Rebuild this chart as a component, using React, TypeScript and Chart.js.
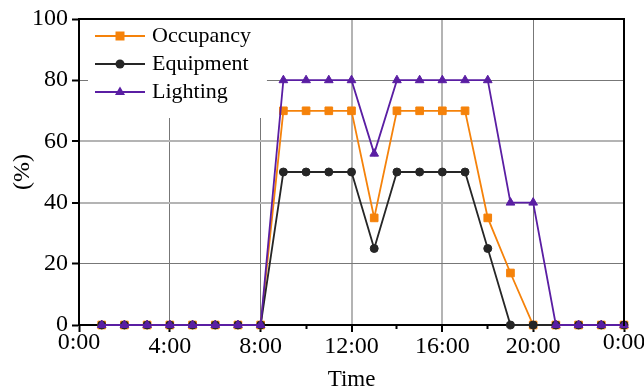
import React, { useEffect, useRef } from 'react';
import { Chart, registerables } from 'chart.js';

Chart.register(...registerables);

const hours = [1, 2, 3, 4, 5, 6, 7, 8, 9, 10, 11, 12, 13, 14, 15, 16, 17, 18, 19, 20, 21, 22, 23, 24];
const occupancy = [0, 0, 0, 0, 0, 0, 0, 0, 70, 70, 70, 70, 35, 70, 70, 70, 70, 35, 17, 0, 0, 0, 0, 0];
const equipment = [0, 0, 0, 0, 0, 0, 0, 0, 50, 50, 50, 50, 25, 50, 50, 50, 50, 25, 0, 0, 0, 0, 0, 0];
const lighting = [0, 0, 0, 0, 0, 0, 0, 0, 80, 80, 80, 80, 56, 80, 80, 80, 80, 80, 40, 40, 0, 0, 0, 0];
const seriesNames = ['Occupancy', 'Equipment', 'Lighting'];
const xTitle = 'Time';
const yTitle = '(%)';

const ORANGE = '#f5820a';
const BLACK = '#262626';
const PURPLE = '#5a1ea3';
const FONT = "'Liberation Serif', 'Times New Roman', serif";

function makeSwatch(color: string, style: string) {
  const c = document.createElement('canvas');
  c.width = 64;
  c.height = 16;
  const g = c.getContext('2d')!;
  g.strokeStyle = color;
  g.fillStyle = color;
  g.lineWidth = 2;
  g.beginPath();
  g.moveTo(14, 8);
  g.lineTo(64, 8);
  g.stroke();
  const cx = 39, cy = 8;
  g.beginPath();
  if (style === 'rect') {
    g.rect(cx - 4.5, cy - 4.5, 9, 9);
  } else if (style === 'circle') {
    g.arc(cx, cy, 4.5, 0, Math.PI * 2);
  } else {
    g.moveTo(cx, cy - 5.5);
    g.lineTo(cx + 5, cy + 3);
    g.lineTo(cx - 5, cy + 3);
    g.closePath();
  }
  g.fill();
  return c;
}

const toXY = (vals: number[]) => hours.map((h, i) => ({ x: h, y: vals[i] }));

const framePlugin = {
  id: 'frame',
  afterLayout(chart: any) {
    const lg = chart.legend;
    if (!lg) return;
    const h = lg.height;
    lg.top = chart.chartArea.top;
    lg.bottom = lg.top + h;
    lg.left = chart.chartArea.left;
  },
  beforeDatasetsDraw(chart: any) {
    const lg = chart.legend;
    if (!lg || !lg.legendHitBoxes || !lg.legendHitBoxes.length) return;
    const hb = lg.legendHitBoxes;
    const ctx = chart.ctx;
    const x0 = hb[0].left + 3;
    const x1 = Math.max(...hb.map((h: any) => h.left + h.width)) + 16;
    const y0 = chart.chartArea.top + 1;
    const last = hb[hb.length - 1];
    const y1 = last.top + last.height + 15;
    ctx.save();
    ctx.fillStyle = '#ffffff';
    ctx.fillRect(x0, y0, x1 - x0, y1 - y0);
    ctx.restore();
    lg.draw();
  },
  afterDraw(chart: any) {
    const { left, top, right, bottom } = chart.chartArea;
    const ctx = chart.ctx;
    ctx.save();
    ctx.strokeStyle = '#000';
    ctx.lineWidth = 2;
    ctx.beginPath();
    ctx.moveTo(left - 1, Math.round(top));
    ctx.lineTo(Math.round(right), Math.round(top));
    ctx.lineTo(Math.round(right), bottom + 1);
    ctx.stroke();
    ctx.restore();
  },
};

export default function App() {
  const ref = useRef<HTMLCanvasElement | null>(null);
  useEffect(() => {
    document.body.style.margin = '0';
    const swatches = [makeSwatch(ORANGE, 'rect'), makeSwatch(BLACK, 'circle'), makeSwatch(PURPLE, 'triangle')];
    const chart = new Chart(ref.current!, {
      type: 'line',
      data: {
        datasets: [
          {
            label: seriesNames[0], data: toXY(occupancy), borderColor: ORANGE, backgroundColor: ORANGE,
            pointStyle: 'rect', pointRadius: 5.4, pointBorderWidth: 1, borderWidth: 1.8, order: 3, clip: false as any,
          },
          {
            label: seriesNames[1], data: toXY(equipment), borderColor: BLACK, backgroundColor: BLACK,
            pointStyle: 'circle', pointRadius: 4, pointBorderWidth: 1, borderWidth: 1.8, order: 2, clip: false as any,
          },
          {
            label: seriesNames[2], data: toXY(lighting), borderColor: PURPLE, backgroundColor: PURPLE,
            pointStyle: 'triangle', pointRadius: 5, pointBorderWidth: 1, borderWidth: 1.8, order: 1, clip: false as any,
          },
        ],
      },
      options: {
        animation: false,
        responsive: true,
        maintainAspectRatio: false,
        layout: { padding: { top: 19, right: 20, left: 0, bottom: 0 } },
        plugins: {
          tooltip: { enabled: false },
          legend: {
            position: 'chartArea' as any,
            align: 'start',
            labels: {
              usePointStyle: true,
              pointStyleWidth: 56,
              padding: 6,
              color: '#000',
              font: { family: FONT, size: 22 },
              generateLabels: (ch: any) =>
                ch.data.datasets.map((ds: any, i: number) => ({
                  text: ds.label,
                  pointStyle: swatches[i],
                  fillStyle: ds.borderColor,
                  strokeStyle: ds.borderColor,
                  lineWidth: 0,
                  fontColor: '#000',
                  hidden: false,
                  datasetIndex: i,
                })),
            },
          },
        },
        scales: {
          x: {
            type: 'linear',
            min: 0,
            max: 24,
            afterFit: (s: any) => { s.height = 64; s.paddingLeft = 0; s.paddingRight = 0; },
            ticks: {
              stepSize: 2,
              autoSkip: false,
              maxRotation: 0,
              padding: 9,
              color: '#000',
              font: { family: FONT, size: 24, lineHeight: '4px' as any },
              callback: (v: any) => {
                const n = Number(v);
                if (n % 4 !== 0) return '';
                const s = `${n % 24}:00`;
                return n === 0 || n === 24 ? s : ['', s];
              },
            },
            grid: {
              tickLength: 7,
              tickColor: '#000',
              tickWidth: 2,
              color: (c: any) => {
                const v = c.tick ? c.tick.value : 0;
                if (v % 4 !== 0 || v === 0 || v === 24) return 'rgba(0,0,0,0)';
                return v === 12 || v === 16 ? '#b4b4b4' : '#777777';
              },
              lineWidth: (c: any) => {
                const v = c.tick ? c.tick.value : 0;
                return v === 12 || v === 16 ? 2 : 1;
              },
              tickBorderDash: (c: any) => {
                const v = c.tick ? c.tick.value : 0;
                return v % 4 !== 0 ? [3, 100] : [];
              },
            } as any,
            border: { display: true, color: '#000', width: 2 },
            title: {
              display: true,
              text: xTitle,
              color: '#000',
              font: { family: FONT, size: 23, lineHeight: 1 },
              padding: { top: 0, bottom: -2.5 },
            },
          },
          y: {
            min: 0,
            max: 100,
            afterFit: (s: any) => { s.width = 79; },
            ticks: {
              stepSize: 10,
              padding: 4,
              color: '#000',
              font: { family: FONT, size: 24 },
              callback: (v: any) => (Number(v) % 20 === 0 ? String(v) : ''),
            },
            grid: {
              tickLength: 7,
              tickColor: '#000',
              tickWidth: 2,
              color: (c: any) => {
                const v = c.tick ? c.tick.value : 0;
                if (v % 20 !== 0 || v === 0 || v === 100) return 'rgba(0,0,0,0)';
                return v === 40 || v === 60 ? '#b4b4b4' : '#777777';
              },
              lineWidth: (c: any) => {
                const v = c.tick ? c.tick.value : 0;
                return v === 40 || v === 60 ? 2 : 1;
              },
              tickBorderDash: (c: any) => {
                const v = c.tick ? c.tick.value : 0;
                return v % 20 !== 0 ? [0, 3, 3, 100] : [];
              },
            } as any,
            border: { display: true, color: '#000', width: 2 },
            title: {
              display: true,
              text: yTitle,
              color: '#000',
              font: { family: FONT, size: 24, lineHeight: 1 },
              padding: { top: 11, bottom: 0 },
            },
          },
        },
      } as any,
      plugins: [framePlugin],
    });
    return () => chart.destroy();
  }, []);
  return (
    <div style={{ width: 644, height: 389, position: 'relative' }}>
      <canvas ref={ref} />
    </div>
  );
}
